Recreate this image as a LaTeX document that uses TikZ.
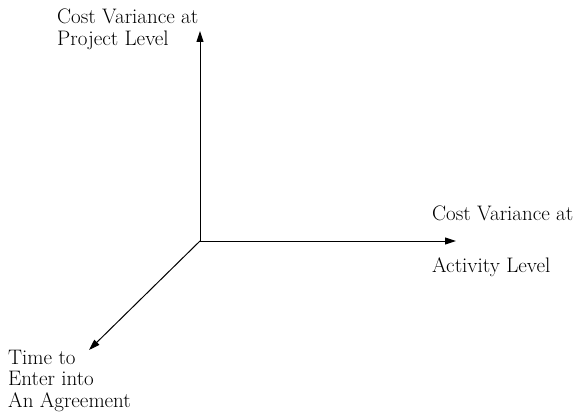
\documentclass[tikz,border=0pt]{standalone}
\usetikzlibrary{arrows.meta}
\begin{document}
\begin{tikzpicture}[x=1pt,y=-1pt,
  axis/.style={draw=black, line width=1pt, -{Triangle[length=11pt,width=7pt]}},
  lbl/.style={font=\fontsize{21}{21.5}\selectfont, inner sep=0pt, align=left}]
\useasboundingbox (0,0) rectangle (578,412);
% origin and the three axis ends
\coordinate (o)  at (200,241);
\coordinate (up) at (200,31);
\coordinate (rt) at (456,241);
\coordinate (dl) at (89,350);
\draw[axis] (o) -- (up);
\draw[axis] (o) -- (rt);
\draw[axis] (o) -- (dl);
% axis labels
\node[lbl, anchor=north west] (projlab) at (57,9) {Cost Variance at\\Project Level};
\node[lbl, anchor=north west] (acttop) at (432,206) {Cost Variance at};
\node[lbl, anchor=north west] (actbot) at (432,257) {Activity Level};
\node[lbl, anchor=north west] (timelab) at (8,350) {Time to\\Enter into\\An Agreement};
\end{tikzpicture}
\end{document}
